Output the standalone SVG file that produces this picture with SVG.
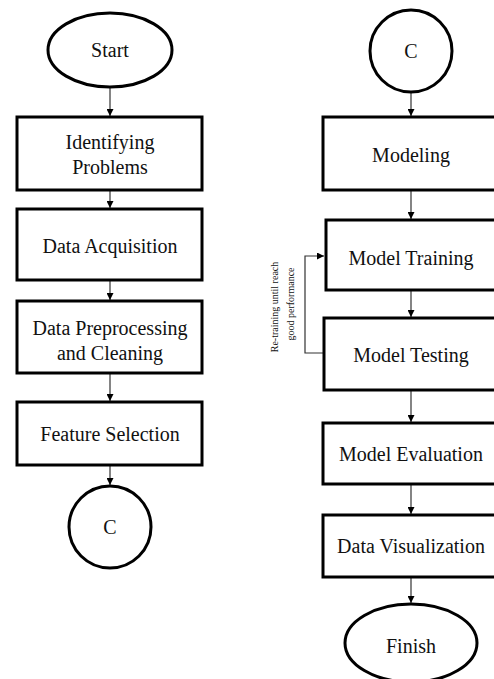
<svg xmlns="http://www.w3.org/2000/svg" width="494" height="679" viewBox="0 0 494 679">
  <style>
    .box { fill: #fff; stroke: #000; stroke-width: 3; }
    .term { fill: #fff; stroke: #000; stroke-width: 3; }
    .lbl { font-family: "Liberation Serif", "Times New Roman", serif; font-size: 20px; fill: #111; text-anchor: middle; }
    .note { font-family: "Liberation Serif", "Times New Roman", serif; font-size: 10px; fill: #111; text-anchor: middle; }
    .edge { fill: none; stroke: #333; stroke-width: 1.2; }
  </style>
  <defs>
    <marker id="arrow" viewBox="0 0 10 10" refX="10" refY="5" markerWidth="7" markerHeight="7" markerUnits="userSpaceOnUse" orient="auto">
      <path d="M0,0 L10,5 L0,10 Z" fill="#000"/>
    </marker>
  </defs>
  <rect width="494" height="679" fill="#fff"/>

  <!-- connectors -->
  <g id="connectors">
    <line class="edge" x1="110" y1="88" x2="110" y2="116" marker-end="url(#arrow)"/>
    <line class="edge" x1="110" y1="191" x2="110" y2="208" marker-end="url(#arrow)"/>
    <line class="edge" x1="110" y1="281" x2="110" y2="300" marker-end="url(#arrow)"/>
    <line class="edge" x1="110" y1="374" x2="110" y2="401" marker-end="url(#arrow)"/>
    <line class="edge" x1="110" y1="466" x2="110" y2="485" marker-end="url(#arrow)"/>

    <line class="edge" x1="411" y1="93" x2="411" y2="116" marker-end="url(#arrow)"/>
    <line class="edge" x1="411" y1="191" x2="411" y2="219" marker-end="url(#arrow)"/>
    <line class="edge" x1="411" y1="291" x2="411" y2="317" marker-end="url(#arrow)"/>
    <line class="edge" x1="411" y1="391" x2="411" y2="422" marker-end="url(#arrow)"/>
    <line class="edge" x1="411" y1="485" x2="411" y2="514" marker-end="url(#arrow)"/>
    <line class="edge" x1="411" y1="578" x2="411" y2="603" marker-end="url(#arrow)"/>

    <!-- feedback loop from testing back to training -->
    <polyline class="edge" points="324,353 305,353 305,256 324,256" marker-end="url(#arrow)"/>
    <text class="note" transform="translate(278,307) rotate(-90)">Re-training until reach</text>
    <text class="note" transform="translate(294,304) rotate(-90)">good performance</text>
  </g>

  <!-- left column -->
  <g id="start">
    <ellipse class="term" cx="110" cy="50" rx="62" ry="37"/>
    <text class="lbl" x="110" y="57">Start</text>
  </g>
  <g id="identifying-problems">
    <rect class="box" x="17" y="117" width="185" height="73"/>
    <text class="lbl" x="110" y="149">Identifying</text>
    <text class="lbl" x="110" y="174">Problems</text>
  </g>
  <g id="data-acquisition">
    <rect class="box" x="17" y="209" width="185" height="71"/>
    <text class="lbl" x="110" y="253">Data Acquisition</text>
  </g>
  <g id="data-preprocessing">
    <rect class="box" x="17" y="301" width="185" height="72"/>
    <text class="lbl" x="110" y="335">Data Preprocessing</text>
    <text class="lbl" x="110" y="360">and Cleaning</text>
  </g>
  <g id="feature-selection">
    <rect class="box" x="17" y="402" width="185" height="63"/>
    <text class="lbl" x="110" y="441">Feature Selection</text>
  </g>
  <g id="connector-c-out">
    <circle class="term" cx="110" cy="527" r="41"/>
    <text class="lbl" x="110" y="534">C</text>
  </g>

  <!-- right column -->
  <g id="connector-c-in">
    <circle class="term" cx="411" cy="51" r="41"/>
    <text class="lbl" x="411" y="58">C</text>
  </g>
  <g id="modeling">
    <rect class="box" x="323" y="117" width="180" height="73"/>
    <text class="lbl" x="411" y="162">Modeling</text>
  </g>
  <g id="model-training">
    <rect class="box" x="326" y="220" width="180" height="70"/>
    <text class="lbl" x="411" y="265">Model Training</text>
  </g>
  <g id="model-testing">
    <rect class="box" x="324" y="318" width="180" height="72"/>
    <text class="lbl" x="411" y="362">Model Testing</text>
  </g>
  <g id="model-evaluation">
    <rect class="box" x="323" y="423" width="180" height="61"/>
    <text class="lbl" x="411" y="461">Model Evaluation</text>
  </g>
  <g id="data-visualization">
    <rect class="box" x="323" y="515" width="180" height="62"/>
    <text class="lbl" x="411" y="553">Data Visualization</text>
  </g>
  <g id="finish">
    <ellipse class="term" cx="411" cy="643" rx="66" ry="39"/>
    <text class="lbl" x="411" y="653">Finish</text>
  </g>
</svg>
